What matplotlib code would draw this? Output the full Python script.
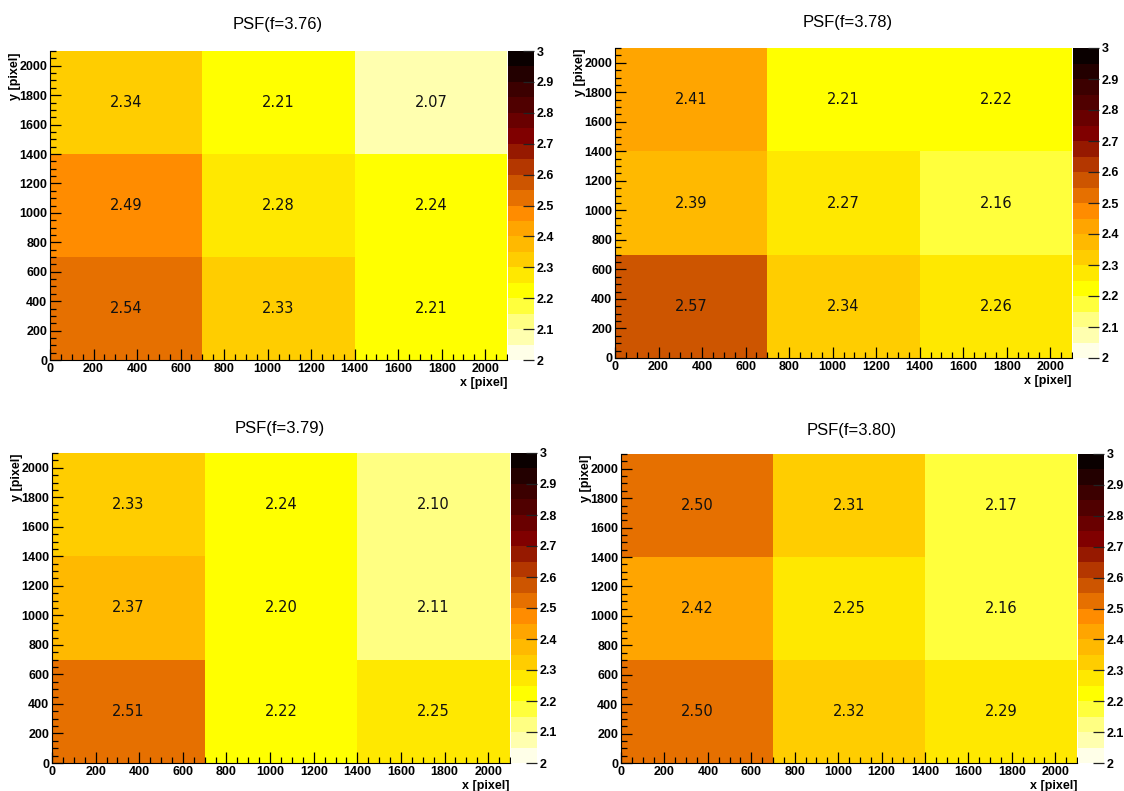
import numpy as np
import matplotlib
matplotlib.use("Agg")
import matplotlib.pyplot as plt
from matplotlib.colors import ListedColormap, BoundaryNorm
from matplotlib.ticker import MultipleLocator
from matplotlib.font_manager import FontProperties

# ---------------- data ----------------
titles = ["PSF(f=3.76)", "PSF(f=3.78)", "PSF(f=3.79)", "PSF(f=3.80)"]
x_edges = [0, 700, 1400, 2100]
y_edges = [0, 700, 1400, 2100]
# rows listed from top (y 1400-2100) to bottom (y 0-700)
psf_376 = [[2.34, 2.21, 2.07],
           [2.49, 2.28, 2.24],
           [2.54, 2.33, 2.21]]
psf_378 = [[2.41, 2.21, 2.22],
           [2.39, 2.27, 2.16],
           [2.57, 2.34, 2.26]]
psf_379 = [[2.33, 2.24, 2.10],
           [2.37, 2.20, 2.11],
           [2.51, 2.22, 2.25]]
psf_380 = [[2.50, 2.31, 2.17],
           [2.42, 2.25, 2.16],
           [2.50, 2.32, 2.29]]
panels = [psf_376, psf_378, psf_379, psf_380]
z_min, z_max, n_levels = 2.0, 3.0, 20
cbar_ticks = [2.0, 2.1, 2.2, 2.3, 2.4, 2.5, 2.6, 2.7, 2.8, 2.9, 3.0]

# ---------------- palette (ROOT-like, 20 levels) ----------------
level_rgb = [
    (255, 255, 232), (255, 255, 175), (255, 255, 130), (255, 255, 60),
    (255, 255, 0), (255, 232, 0), (255, 205, 0), (255, 185, 0),
    (255, 165, 0), (255, 140, 0), (230, 112, 0), (205, 85, 0),
    (180, 55, 0), (150, 25, 0), (128, 0, 0), (105, 0, 0),
    (80, 0, 0), (60, 0, 0), (35, 0, 0), (10, 0, 0)]
cmap = ListedColormap([(r / 255, g / 255, b / 255) for r, g, b in level_rgb])
levels = np.linspace(z_min, z_max, n_levels + 1)
norm = BoundaryNorm(levels, cmap.N)

W, H = 1124, 791
fig = plt.figure(figsize=(W / 100, H / 100), dpi=100)

def rect(l, r, t, b):
    return [l / W, 1 - b / H, (r - l) / W, (b - t) / H]

# pixel geometry: (ax L, R, T, B), (cbar L, R), title center (x, y)
geom = [
    ((50, 507, 51, 360), (508, 534), (278, 25)),
    ((615, 1072, 48, 358), (1073, 1099), (848, 22)),
    ((52, 510, 453, 763), (511, 537), (280, 428)),
    ((621, 1077, 454, 763), (1078, 1104), (852, 430)),
]

tick_font = dict(family="Liberation Sans", size=9, weight="bold")
tick_fp = FontProperties(**tick_font)

for data, title, ((l, r, t, b), (cl, cr), (tx, ty)) in zip(panels, titles, geom):
    ax = fig.add_axes(rect(l, r, t, b))
    z = np.array(data)[::-1]
    ax.pcolormesh(x_edges, y_edges, z, cmap=cmap, norm=norm)
    xc = [(x_edges[i] + x_edges[i + 1]) / 2 for i in range(3)]
    yc = [(y_edges[j] + y_edges[j + 1]) / 2 for j in range(3)]
    for j in range(3):
        for i in range(3):
            ax.text(xc[i], yc[j], f"{z[j, i]:.2f}", ha="center", va="center",
                    fontsize=10.5, family="DejaVu Sans", color="#111111")
    ax.set_xlim(0, 2100)
    ax.set_ylim(0, 2100)
    ax.xaxis.set_major_locator(MultipleLocator(200))
    ax.xaxis.set_minor_locator(MultipleLocator(50))
    ax.yaxis.set_major_locator(MultipleLocator(200))
    ax.yaxis.set_minor_locator(MultipleLocator(50))
    ax.tick_params(which="both", direction="in", top=False, right=False,
                   color="black", width=0.9)
    ax.tick_params(which="major", length=8, pad=2)
    ax.tick_params(which="minor", length=4)
    for lab in ax.get_xticklabels() + ax.get_yticklabels():
        lab.set_fontproperties(tick_fp)
    for sp in ax.spines.values():
        sp.set_linewidth(0.8)
    ax.spines["top"].set_visible(False)
    ax.spines["right"].set_visible(False)

    cax = fig.add_axes(rect(cl, cr, t, b))
    cb = fig.colorbar(matplotlib.cm.ScalarMappable(norm=norm, cmap=cmap),
                      cax=cax, ticks=cbar_ticks)
    cb.outline.set_linewidth(0)
    cb.ax.set_yticklabels([f"{v:g}" for v in cbar_ticks])
    cb.ax.tick_params(direction="in", length=8, width=0.9, color="#222222",
                      pad=2)
    cb.ax.minorticks_off()
    for lab in cb.ax.get_yticklabels():
        lab.set_fontproperties(tick_fp)

    fig.text(tx / W, 1 - ty / H, title, ha="center", va="center",
             fontsize=12, family="Liberation Sans")
    fig.text(r / W, 1 - (b + 23) / H, "x [pixel]", ha="right", va="center",
             **tick_font)
    fig.text((l - 35) / W, 1 - (t + 1) / H, "y [pixel]", ha="center", va="top",
             rotation=90, **tick_font)

fig.savefig("out.png", dpi=100)
